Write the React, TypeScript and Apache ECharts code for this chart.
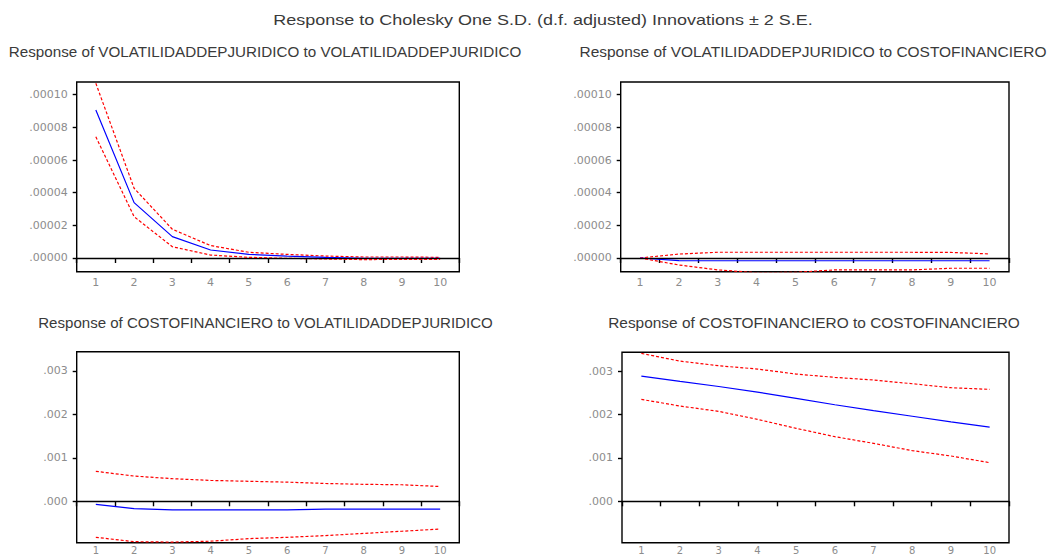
import React, { useEffect, useRef } from 'react';
import * as echarts from 'echarts';

// ---------- data ----------
const periods = ['1', '2', '3', '4', '5', '6', '7', '8', '9', '10'];

// Response of VOLATILIDADDEPJURIDICO to VOLATILIDADDEPJURIDICO
const volVolResponse = [0.0000906, 0.0000339, 0.0000131, 0.0000049, 0.0000022, 0.0000012, 0.0000004, -0.0000002, -0.0000002, -0.0000002];
const volVolUpper = [0.000107, 0.0000427, 0.0000176, 0.0000076, 0.0000035, 0.0000022, 0.0000012, 0.0000006, 0.0000006, 0.0000004];
const volVolLower = [0.0000743, 0.0000253, 0.0000069, 0.0000018, 0.0000004, -0.0000002, -0.0000006, -0.000001, -0.0000008, -0.0000008];

// Response of VOLATILIDADDEPJURIDICO to COSTOFINANCIERO
const volCostResponse = [0, -0.0000016, -0.0000017, -0.0000017, -0.0000017, -0.0000017, -0.0000017, -0.0000017, -0.0000017, -0.0000017];
const volCostUpper = [0, 0.0000024, 0.0000035, 0.0000035, 0.0000035, 0.0000035, 0.0000035, 0.0000035, 0.0000034, 0.0000025];
const volCostLower = [0, -0.0000043, -0.0000073, -0.000009, -0.0000088, -0.0000073, -0.0000073, -0.0000073, -0.0000063, -0.0000063];

// Response of COSTOFINANCIERO to VOLATILIDADDEPJURIDICO
const costVolResponse = [-0.00007, -0.00017, -0.0002, -0.0002, -0.0002, -0.0002, -0.00018, -0.00018, -0.00018, -0.00018];
const costVolUpper = [0.00069, 0.00058, 0.00052, 0.00048, 0.00046, 0.00044, 0.00041, 0.00039, 0.00038, 0.00034];
const costVolLower = [-0.00083, -0.00093, -0.00094, -0.00092, -0.00086, -0.00083, -0.00079, -0.00074, -0.00069, -0.00064];

// Response of COSTOFINANCIERO to COSTOFINANCIERO
const costCostResponse = [0.002886, 0.002763, 0.002645, 0.002515, 0.00237, 0.002225, 0.00209, 0.00196, 0.00183, 0.001711];
const costCostUpper = [0.003407, 0.00323, 0.003123, 0.003047, 0.002932, 0.002855, 0.002794, 0.002709, 0.002617, 0.002579];
const costCostLower = [0.002348, 0.002195, 0.002072, 0.001888, 0.001681, 0.001489, 0.001335, 0.001167, 0.001044, 0.00089];

const volTicks = [0, 0.00002, 0.00004, 0.00006, 0.00008, 0.0001];
const costTicks = [0, 0.001, 0.002, 0.003];

const mainTitle = 'Response to Cholesky One S.D. (d.f. adjusted) Innovations \u00b1 2 S.E.';
const panelTitles = [
  'Response of VOLATILIDADDEPJURIDICO to VOLATILIDADDEPJURIDICO',
  'Response of VOLATILIDADDEPJURIDICO to COSTOFINANCIERO',
  'Response of COSTOFINANCIERO to VOLATILIDADDEPJURIDICO',
  'Response of COSTOFINANCIERO to COSTOFINANCIERO',
];

// ---------- layout ----------
const panels = [
  { grid: { left: 76.7, top: 82, width: 382.6, height: 189.7 }, min: -0.0000084, max: 0.0001078, ticks: volTicks, digits: 5,
    xFont: 11, xMargin: 5,
    response: volVolResponse, upper: volVolUpper, lower: volVolLower, title: { cx: 265, cy: 52.5, w: 513 } },
  { grid: { left: 620.7, top: 82, width: 388.3, height: 189.7 }, min: -0.0000084, max: 0.0001078, ticks: volTicks, digits: 5,
    xFont: 11, xMargin: 5,
    response: volCostResponse, upper: volCostUpper, lower: volCostLower, title: { cx: 813, cy: 52.5, w: 467 } },
  { grid: { left: 76.7, top: 351.7, width: 382.6, height: 191 }, min: -0.000954, max: 0.003444, ticks: costTicks, digits: 3,
    xFont: 10, xMargin: 3,
    response: costVolResponse, upper: costVolUpper, lower: costVolLower, title: { cx: 265.5, cy: 323, w: 455 } },
  { grid: { left: 622, top: 352.3, width: 387, height: 190.4 }, min: -0.000954, max: 0.003433, ticks: costTicks, digits: 3,
    xFont: 10, xMargin: 3,
    response: costCostResponse, upper: costCostUpper, lower: costCostLower, title: { cx: 814, cy: 323, w: 412 } },
];

const TITLE_FONT_SIZE = 14;
const TITLE_FAMILY = 'Liberation Sans, Arial, sans-serif';

function measure(text: string, font: string): number {
  const ctx = document.createElement('canvas').getContext('2d');
  if (!ctx) return text.length * 7;
  ctx.font = font;
  return ctx.measureText(text).width;
}

function titleText(text: string, cx: number, cy: number, target: number) {
  const w = measure(text, `${TITLE_FONT_SIZE}px ${TITLE_FAMILY}`);
  return {
    type: 'text',
    x: cx,
    y: cy,
    scaleX: w > 0 ? target / w : 1,
    style: {
      text,
      fontSize: TITLE_FONT_SIZE,
      fontFamily: TITLE_FAMILY,
      fill: '#3a3a3a',
      align: 'center',
      verticalAlign: 'middle',
    },
    silent: true,
  };
}

export default function App() {
  const ref = useRef<HTMLDivElement>(null);

  useEffect(() => {
    if (!ref.current) return;
    const chart = echarts.init(ref.current, undefined, { renderer: 'svg' });
    const labelStyle = { color: '#8c8c8c', fontFamily: 'DejaVu Sans, sans-serif' };

    const option: any = {
      animation: false,
      backgroundColor: '#ffffff',
      grid: panels.map((p) => ({
        ...p.grid,
        show: true,
        borderColor: '#000',
        borderWidth: 1.4,
        backgroundColor: 'transparent',
        containLabel: false,
        outerBoundsMode: 'none',
      })),
      xAxis: panels.map((p, i) => ({
        gridIndex: i,
        type: 'category',
        data: periods,
        boundaryGap: true,
        axisLine: { show: true, lineStyle: { color: '#000', width: 1.4 } },
        axisTick: { show: true, length: 5, alignWithLabel: false, interval: 0, lineStyle: { color: '#000', width: 1.4 } },
        axisLabel: { ...labelStyle, fontSize: p.xFont, margin: p.xMargin, interval: 0 },
        splitLine: { show: false },
      })),
      yAxis: panels.map((p, i) => ({
        gridIndex: i,
        type: 'value',
        min: p.min,
        max: p.max,
        axisLine: { show: false },
        splitLine: { show: false },
        axisTick: { show: true, length: 4, lineStyle: { color: '#000', width: 1.4 }, customValues: p.ticks },
        axisLabel: {
          ...labelStyle,
          fontSize: 11,
          margin: 9,
          customValues: p.ticks,
          formatter: (v: number) => v.toFixed(p.digits).replace(/^0/, ''),
        },
      })),
      series: panels.flatMap((p, i) => [
        {
          type: 'line',
          xAxisIndex: i,
          yAxisIndex: i,
          data: p.upper,
          symbol: 'none',
          showSymbol: false,
          lineStyle: { color: '#ff0000', width: 1.2, type: [3, 2] },
          silent: true,
        },
        {
          type: 'line',
          xAxisIndex: i,
          yAxisIndex: i,
          data: p.lower,
          symbol: 'none',
          showSymbol: false,
          lineStyle: { color: '#ff0000', width: 1.2, type: [3, 2] },
          silent: true,
        },
        {
          type: 'line',
          xAxisIndex: i,
          yAxisIndex: i,
          data: p.response,
          symbol: 'none',
          showSymbol: false,
          lineStyle: { color: '#0000ff', width: 1.2 },
          silent: true,
          markLine: {
            silent: true,
            symbol: ['none', 'none'],
            label: { show: false },
            lineStyle: { color: '#000', width: 1.2, type: 'solid' },
            data: [{ yAxis: 0 }],
          },
        },
      ]),
      graphic: [
        titleText(mainTitle, 543, 20, 540),
        ...panels.map((p, i) => titleText(panelTitles[i], p.title.cx, p.title.cy, p.title.w)),
      ],
    };

    chart.setOption(option);
    return () => {
      chart.dispose();
    };
  }, []);

  return (
    <div
      ref={ref}
      style={{ position: 'fixed', left: 0, top: 0, width: 1062, height: 558, background: '#fff' }}
    />
  );
}
